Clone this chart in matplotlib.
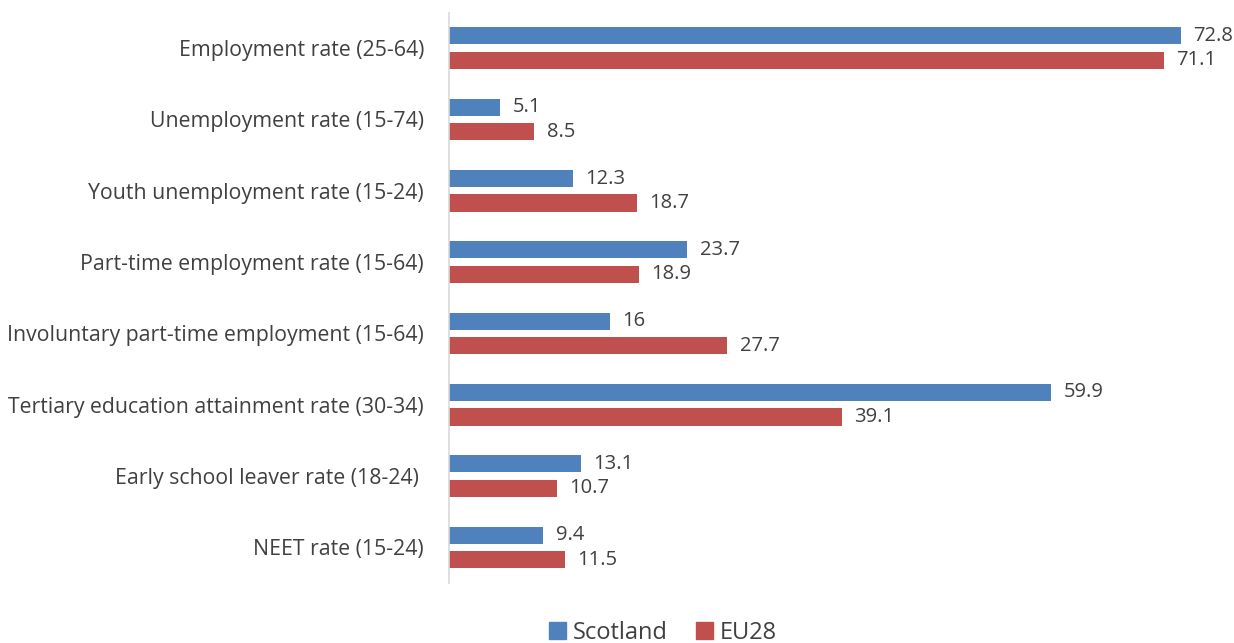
import numpy as np
import matplotlib
matplotlib.use('Agg')
import matplotlib.pyplot as plt
from matplotlib.patches import Patch

categories = [
    'Employment rate (25-64)',
    'Unemployment rate (15-74)',
    'Youth unemployment rate (15-24)',
    'Part-time employment rate (15-64)',
    'Involuntary part-time employment (15-64)',
    'Tertiary education attainment rate (30-34)',
    'Early school leaver rate (18-24) ',
    'NEET rate (15-24)',
]
scotland = [72.8, 5.1, 12.3, 23.7, 16, 59.9, 13.1, 9.4]
eu28 = [71.1, 8.5, 18.7, 18.9, 27.7, 39.1, 10.7, 11.5]
scotland_labels = ['72.8', '5.1', '12.3', '23.7', '16', '59.9', '13.1', '9.4']
eu28_labels = ['71.1', '8.5', '18.7', '18.9', '27.7', '39.1', '10.7', '11.5']

BLUE = '#4F81BD'
RED = '#C0504D'
TEXT = '#404040'

plt.rcParams['font.family'] = ['Open Sans', 'DejaVu Sans']

fig = plt.figure(figsize=(12.34, 6.43), dpi=100)
W, H = 1234, 643
ax = fig.add_axes([449 / W, 1 - 583 / H, (1214 - 449) / W, (583 - 12.5) / H])

y = np.arange(len(categories))
bar_h = 0.24
off = 0.172

ax.barh(y - off, scotland, height=bar_h, color=BLUE, label='Scotland')
ax.barh(y + off, eu28, height=bar_h, color=RED, label='EU28')

# value labels just past the bar ends
for yi, v, lab in zip(y, scotland, scotland_labels):
    ax.annotate(lab, (v, yi - off), xytext=(9, 0), textcoords='offset points',
                va='center', ha='left', fontsize=14.5, color=TEXT)
for yi, v, lab in zip(y, eu28, eu28_labels):
    ax.annotate(lab, (v, yi + off), xytext=(9, 0), textcoords='offset points',
                va='center', ha='left', fontsize=14.5, color=TEXT)

ax.set_ylim(len(categories) - 0.5, -0.5)
ax.set_xlim(0, 76.1)
ax.set_yticks(y)
ax.set_yticklabels(categories, fontsize=15.3, color=TEXT)
ax.tick_params(axis='y', length=0, pad=18)
ax.set_xticks([])
for s in ['top', 'right', 'bottom']:
    ax.spines[s].set_visible(False)
ax.spines['left'].set_color('#D9D9D9')
ax.spines['left'].set_linewidth(1.2)

handles = [Patch(color=BLUE, label='Scotland'), Patch(color=RED, label='EU28')]
fig.legend(handles=handles, loc='center', bbox_to_anchor=(663 / W, 1 - 633 / H),
           ncol=2, frameon=False, fontsize=17, handlelength=0.7, handleheight=0.7,
           handletextpad=0.3, columnspacing=1.2, labelcolor=TEXT)

fig.savefig('out.png', dpi=100)
